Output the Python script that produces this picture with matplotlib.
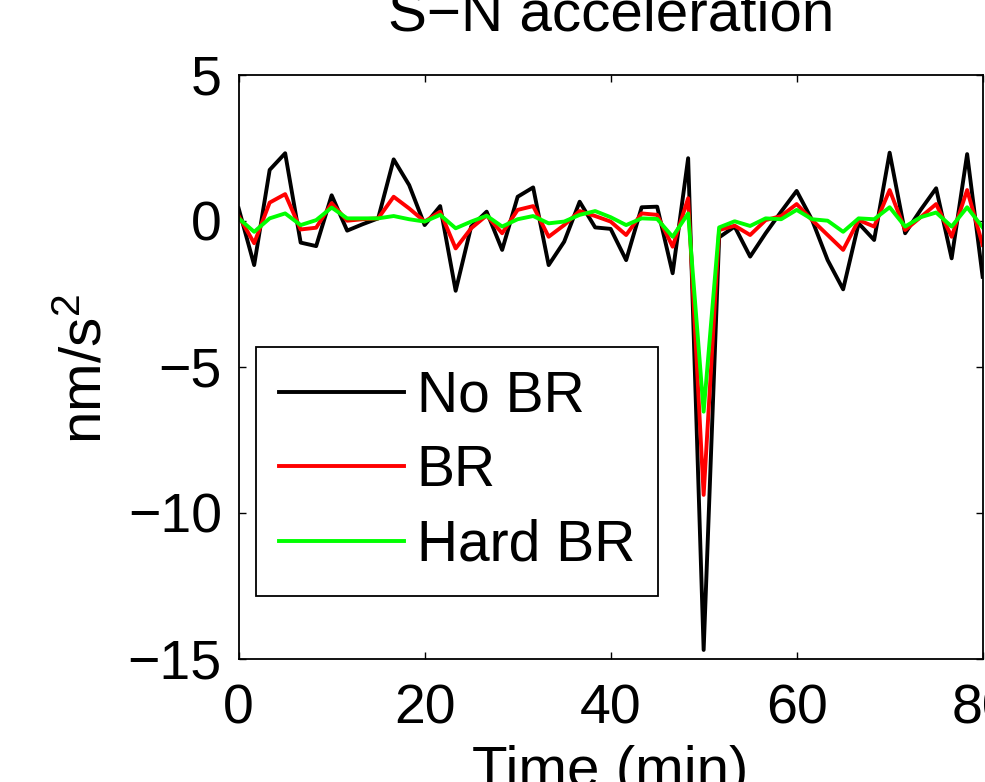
import matplotlib
matplotlib.use("Agg")
from matplotlib import pyplot as plt
import numpy as np

plt.rcParams["font.family"] = ["Liberation Sans", "DejaVu Sans"]
plt.rcParams["mathtext.fontset"] = "custom"
plt.rcParams["mathtext.rm"] = "Liberation Sans"
plt.rcParams["mathtext.it"] = "Liberation Sans"

# samples every 100 s, values in nm/s^2
dt_min = 100 / 60

no_br = [0.43, -1.51, 1.75, 2.32, -0.74, -0.86, 0.88, -0.33, -0.11, 0.09,
         2.11, 1.23, -0.14, 0.51, -2.39, -0.19, 0.32, -0.99, 0.83, 1.15,
         -1.51, -0.71, 0.66, -0.22, -0.27, -1.34, 0.47, 0.49, -1.79, 2.15,
         -14.69, -0.56, -0.19, -1.22, -0.42, 0.32, 1.03, 0.03, -1.34, -2.34,
         -0.08, -0.65, 2.34, -0.42, 0.38, 1.12, -1.28, 2.29, -1.91]

br = [0.17, -0.76, 0.63, 0.92, -0.29, -0.23, 0.61, 0.01, 0.06, 0.09,
      0.83, 0.43, -0.02, 0.32, -0.94, -0.25, 0.19, -0.42, 0.38, 0.51,
      -0.54, -0.14, 0.34, 0.17, -0.02, -0.48, 0.26, 0.21, -0.88, 0.78,
      -9.38, -0.31, -0.16, -0.48, 0.03, 0.17, 0.58, 0.03, -0.48, -0.99,
      0.03, -0.19, 1.06, -0.31, 0.13, 0.58, -0.54, 1.06, -0.82]

hard_br = [0.09, -0.37, 0.09, 0.26, -0.14, 0.03, 0.46, 0.09, 0.09, 0.09,
           0.17, 0.06, -0.02, 0.21, -0.25, -0.02, 0.18, -0.19, 0.06, 0.17,
           -0.08, -0.02, 0.21, 0.34, 0.13, -0.14, 0.09, 0.07, -0.54, 0.26,
           -6.53, -0.22, -0.01, -0.17, 0.09, 0.06, 0.38, 0.06, 0.01, -0.37,
           0.09, 0.06, 0.47, -0.19, 0.13, 0.29, -0.19, 0.47, -0.22]

labels = ["No BR", "BR", "Hard BR"]
xticks = [0, 20, 40, 60, 80]
yticks = [-15, -10, -5, 0, 5]

t = np.arange(len(no_br)) * dt_min

fig = plt.figure(figsize=(9.85, 7.82), dpi=100)
ax = fig.add_axes([0.2423, 0.1573, 0.7553, 0.7468])

ax.plot(t, no_br, color="black", lw=2.8, label=labels[0])
ax.plot(t, br, color="#ff0000", lw=2.8, label=labels[1])
ax.plot(t, hard_br, color="#00ff00", lw=2.8, label=labels[2])

ax.set_xlim(0, 80)
ax.set_ylim(-15, 5)
ax.set_xticks(xticks)
ax.set_yticks(yticks)
ax.tick_params(direction="in", length=5, width=1, labelsize=40,
               top=True, right=True)
ax.tick_params(axis="x", pad=18)
ax.tick_params(axis="y", pad=12)
for s in ax.spines.values():
    s.set_linewidth(1.3)

ax.set_title("S\u2212N acceleration", fontsize=42, pad=32)
ax.set_xlabel("Time (min)", fontsize=42)
ax.xaxis.set_label_coords(0.5, -0.147)
ax.set_ylabel("nm/s$^2$", fontsize=42)
ax.yaxis.set_label_coords(-0.168, 0.497)

leg = ax.legend(loc="upper left", bbox_to_anchor=(256 / 985, 1 - 347 / 782),
                bbox_transform=fig.transFigure, borderaxespad=0,
                fontsize=41, handlelength=2.2, handletextpad=0.22,
                labelspacing=0.36, borderpad=0.4, fancybox=False,
                framealpha=1, edgecolor="black")
leg.get_frame().set_linewidth(1.3)

fig.savefig("out.png", dpi=100)
